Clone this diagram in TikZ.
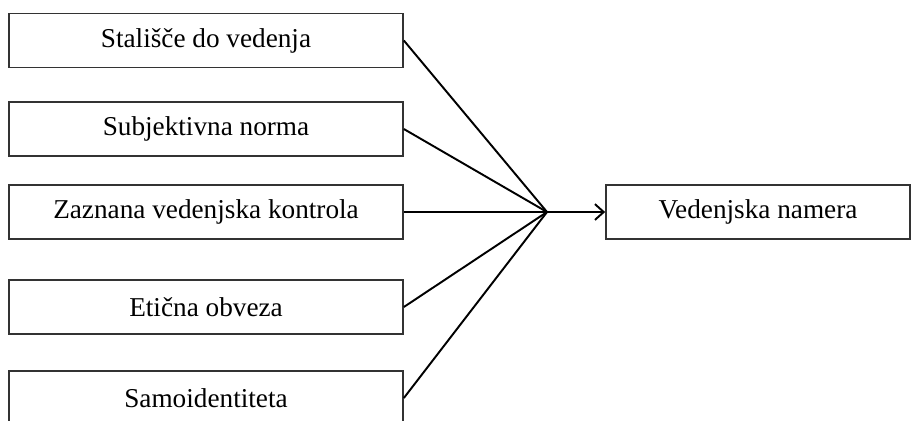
\documentclass[tikz,border=0pt]{standalone}
\usepackage{fontspec}
\setmainfont{Liberation Serif}
\usetikzlibrary{arrows.meta}

\begin{document}
\begin{tikzpicture}[x=0.02cm, y=-0.02cm, >={Straight Barb[length=5pt,width=9pt]},
  box/.style={draw=black!80, line width=1pt, minimum width=7.88cm, minimum height=1.08cm,
    inner sep=0pt, font=\fontsize{15.5}{18}\selectfont},
  link/.style={line width=1.1pt}]
  \useasboundingbox (0,0) rectangle (912,420);
  % vplivi na namero
  \node[box] (stal) at (206,40.5) {Stališče do vedenja};
  \node[box] (norm) at (206,129) {Subjektivna norma};
  \node[box] (kontr) at (206,212) {Zaznana vedenjska kontrola};
  \node[box] (etic) at (206,307) {Etična obveza};
  \node[box] (samo) at (206,398) {Samoidentiteta};
  \node[box, minimum width=6.08cm] (nam) at (758,212) {Vedenjska namera};
  \coordinate (hub) at (547,212);
  \foreach \n in {stal,norm,kontr,etic,samo}{
    \draw[link] (\n.east) -- (hub);
  }
  \draw[link,->] (hub) -- (nam.west);
\end{tikzpicture}
\end{document}
